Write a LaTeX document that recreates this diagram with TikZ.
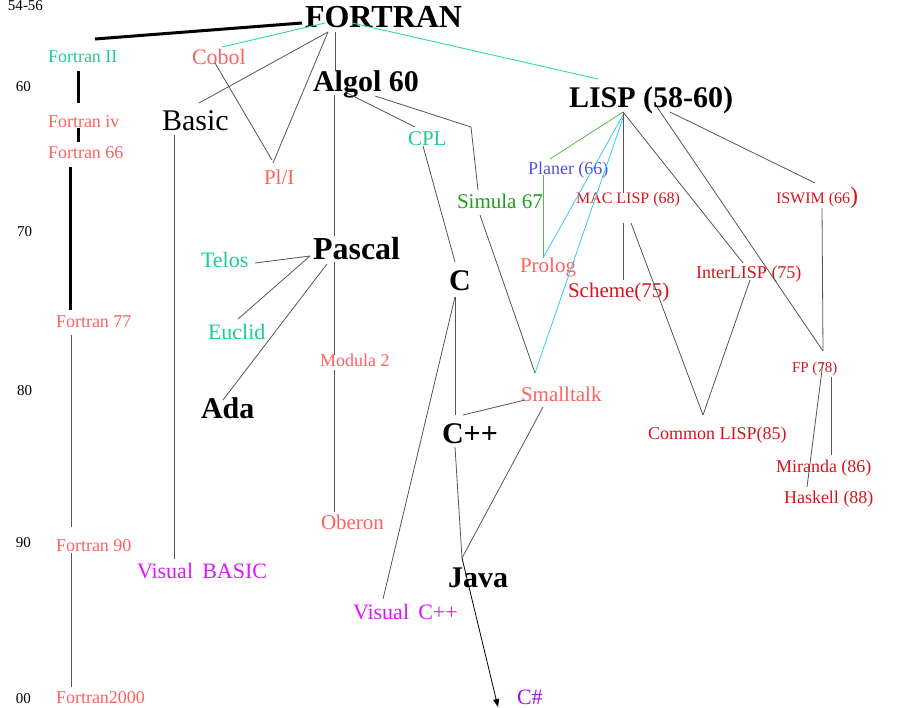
\documentclass[tikz,border=0pt]{standalone}
\usepackage{fontspec}
\setmainfont{Liberation Serif}
\usetikzlibrary{calc,arrows.meta}
\definecolor{tealtxt}{RGB}{26,204,150}
\definecolor{salmon}{RGB}{255,96,96}
\definecolor{dred}{RGB}{215,20,30}
\definecolor{magen}{RGB}{225,20,255}
\definecolor{purp}{RGB}{160,20,210}
\definecolor{planblue}{RGB}{80,80,225}
\definecolor{simgreen}{RGB}{30,160,30}
\definecolor{glin}{RGB}{90,185,70}
\definecolor{clin}{RGB}{50,205,255}
\definecolor{tlin}{RGB}{50,215,165}
\definecolor{lgray}{RGB}{85,85,85}
\tikzset{
  lbl/.style={anchor=base west, inner sep=0pt, outer sep=0pt},
  f15/.style={lbl, font=\fontsize{15}{15}\selectfont},
  f16/.style={lbl, font=\fontsize{16}{16}\selectfont},
  f18/.style={lbl, font=\fontsize{18}{18}\selectfont},
  f21/.style={lbl, font=\fontsize{21}{21}\selectfont},
  f22/.style={lbl, font=\fontsize{22}{22}\selectfont},
  f30/.style={lbl, font=\fontsize{30}{30}\selectfont},
  b30/.style={lbl, font=\fontsize{30}{30}\selectfont\bfseries},
  b32/.style={lbl, font=\fontsize{32}{32}\selectfont\bfseries},
  thick line/.style={line width=3pt, black},
  conn/.style={line width=0.8pt, lgray},
  tconn/.style={line width=0.9pt, tlin},
  gconn/.style={line width=0.8pt, glin},
  cconn/.style={line width=0.8pt, clin},
}
\begin{document}
\begin{tikzpicture}[x=1pt,y=-1pt]
\useasboundingbox (0,0) rectangle (909,707);
% year labels
\node[f15] (y54) at (8,10) {54-56};
\node[f15] (y60) at (16,91) {60};
\node[f15] (y70) at (17,236) {70};
\node[f15] (y80) at (17,395) {80};
\node[f15] (y90) at (16,547) {90};
\node[f15] (y00) at (16,703) {00};
% languages
\node[b32] (fortran) at (305,27) {FORTRAN};
\node[f18, text=tealtxt] (f2) at (48,62) {Fortran II};
\node[f18, text=salmon] (f4) at (48,127) {Fortran iv};
\node[f18, text=salmon] (f66) at (48,158) {Fortran 66};
\node[f18, text=salmon] (f77) at (56,327) {Fortran 77};
\node[f18, text=salmon] (f90) at (56,551) {Fortran 90};
\node[f18, text=salmon] (f2000) at (56,703) {Fortran2000};
\node[f22, text=salmon] (cobol) at (192,64) {Cobol};
\node[f30] (basic) at (162,130) {Basic};
\node[f21, text=salmon] (pl1) at (264,184) {Pl/I};
\node[b30] (algol) at (313,91) {Algol 60};
\node[f21, text=tealtxt] (cpl) at (408,145) {CPL};
\node[f21, text=simgreen] (simula) at (457,208) {Simula 67};
\node[b32] (pascal) at (313,259) {Pascal};
\node[f22, text=tealtxt] (telos) at (201,267) {Telos};
\node[f22, text=tealtxt] (euclid) at (208,339) {Euclid};
\node[b30] (ada) at (201,418) {Ada};
\node[f18, text=salmon] (modula) at (320,366) {Modula 2};
\node[f21, text=salmon] (oberon) at (321,529) {Oberon};
\node[b30] (c) at (449,290) {C};
\node[b30] (cpp) at (442,443) {C++};
\node[b30] (java) at (448,587) {Java};
\node[f22, text=purp] (csharp) at (517,704) {C\#};
\node[f22, text=magen] (vbasic) at (137,578) {Visual\, BASIC};
\node[f22, text=magen] (vcpp) at (353,619) {Visual\, C++};
\node[f21, text=salmon] (smalltalk) at (521,401) {Smalltalk};
\node[b30] (lisp) at (569,107) {LISP (58-60)};
\node[f18, text=planblue] (planer) at (528,174) {Planer (66)};
\node[f21, text=salmon] (prolog) at (520,272) {Prolog};
\node[f16, text=dred] (maclisp) at (576,203) {MAC LISP (68)};
\node[f21, text=dred] (scheme) at (568,297) {Scheme(75)};
\node[f18, text=dred] (interlisp) at (696,278) {InterLISP (75)};
\node[f16, text=dred] (iswim) at (776,203) {ISWIM (66{\fontsize{24}{24}\selectfont)}};
\node[f15, text=dred] (fp) at (792,372) {FP (78)};
\node[f18, text=dred] (commonlisp) at (648,439) {Common LISP(85)};
\node[f18, text=dred] (miranda) at (776,472) {Miranda (86)};
\node[f18, text=dred] (haskell) at (784,503) {Haskell (88)};
% Fortran lineage (thick)
\draw[thick line] ($(fortran.base west)+(-3,-4)$) -- ($(f2.base west)+(47,-23)$);
\draw[thick line] ($(f2.base west)+(30,9)$) -- ($(f4.base west)+(30,-24)$);
\draw[thick line] ($(f4.base west)+(30,1)$) -- ($(f66.base west)+(30,-16)$);
\draw[thick line] ($(f66.base west)+(22,9)$) -- ($(f77.base west)+(14,-17)$);
\draw[conn] ($(f77.base west)+(15,8)$) -- ($(f90.base west)+(15,-24)$);
\draw[conn] ($(f90.base west)+(15,2)$) -- ($(f2000.base west)+(15,-16)$);
% from FORTRAN
\draw[tconn] ($(fortran.base west)+(20,-4)$) -- ($(cobol.base west)+(30,-17)$);
\draw[tconn] ($(fortran.base west)+(47,-4)$) -- ($(lisp.base west)+(29,-28)$);
\draw[conn] ($(fortran.base west)+(23,5)$) -- ($(basic.base west)+(37,-27)$);
\draw[conn] ($(fortran.base west)+(23,5)$) -- ($(pl1.base west)+(9,-21)$);
\draw[conn] ($(cobol.base west)+(23,-1)$) -- ($(pl1.base west)+(8,-24)$);
\draw[conn] ($(fortran.base west)+(30,5)$) -- ($(algol.base west)+(22,-21)$);
\draw[conn] ($(basic.base west)+(12,5)$) -- ($(vbasic.base west)+(37,-19)$);
% Algol family
\draw[conn] ($(algol.base west)+(21,4)$) -- ($(pascal.base west)+(21,-23)$);
\draw[conn] ($(pascal.base west)+(21,3)$) -- ($(modula.base west)+(14,-11)$);
\draw[conn] ($(modula.base west)+(14,4)$) -- ($(oberon.base west)+(13,-17)$);
\draw[conn] ($(algol.base west)+(34,2)$) -- ($(cpl.base west)+(7,-18)$);
\draw[conn] ($(algol.base west)+(62,5)$) -- ($(simula.base west)+(14,-81)$) -- ($(simula.base west)+(21,-18)$);
\draw[conn] ($(simula.base west)+(23,7)$) -- ($(smalltalk.base west)+(14,-28)$);
\draw[conn] ($(cpl.base west)+(15,1)$) -- ($(c.base west)+(6,-28)$);
\draw[conn] ($(pascal.base west)+(-3,-3)$) -- ($(telos.base west)+(54,-4)$);
\draw[conn] ($(pascal.base west)+(-3,-3)$) -- ($(euclid.base west)+(30,-20)$);
\draw[conn] ($(pascal.base west)+(14,5)$) -- ($(ada.base west)+(22,-18)$);
% C family
\draw[conn] ($(c.base west)+(6,7)$) -- ($(cpp.base west)+(13,-28)$);
\draw[conn] ($(c.base west)+(6,7)$) -- ($(vcpp.base west)+(30,-20)$);
\draw[conn] ($(smalltalk.base west)+(4,-1)$) -- ($(cpp.base west)+(21,-28)$);
\draw[conn] ($(cpp.base west)+(13,4)$) -- ($(java.base west)+(14,-29)$);
\draw[conn] ($(smalltalk.base west)+(22,6)$) -- ($(java.base west)+(14,-29)$);
\draw[conn, -{Triangle[length=8pt,width=6pt]}, black] ($(java.base west)+(14,-29)$) -- ($(csharp.base west)+(-19,3)$);
% LISP family
\draw[gconn] ($(lisp.base west)+(54,5)$) -- ($(planer.base west)+(22,-15)$);
\draw[gconn] ($(planer.base west)+(15,1)$) -- ($(prolog.base west)+(23,-15)$);
\draw[cconn] ($(lisp.base west)+(54,8)$) -- ($(prolog.base west)+(23,-14)$);
\draw[cconn] ($(lisp.base west)+(54,11)$) -- ($(smalltalk.base west)+(14,-28)$);
\draw[conn] ($(lisp.base west)+(54,5)$) -- ($(maclisp.base west)+(47,-10)$);
\draw[conn] ($(lisp.base west)+(54,5)$) -- ($(interlisp.base west)+(47,-15)$);
\draw[conn] ($(lisp.base west)+(88,0)$) -- ($(fp.base west)+(31,-21)$);
\draw[conn] ($(lisp.base west)+(101,5)$) -- ($(iswim.base west)+(39,-20)$);
\draw[conn] ($(maclisp.base west)+(47,20)$) -- ($(scheme.base west)+(55,-17)$);
\draw[conn] ($(maclisp.base west)+(55,20)$) -- ($(commonlisp.base west)+(55,-24)$);
\draw[conn] ($(interlisp.base west)+(54,2)$) -- ($(commonlisp.base west)+(55,-24)$);
\draw[conn] ($(iswim.base west)+(46,5)$) -- ($(fp.base west)+(31,-21)$);
\draw[conn] ($(fp.base west)+(39,5)$) -- ($(miranda.base west)+(55,-17)$);
\draw[conn] ($(fp.base west)+(31,-10)$) -- ($(haskell.base west)+(23,-16)$);
\end{tikzpicture}
\end{document}
